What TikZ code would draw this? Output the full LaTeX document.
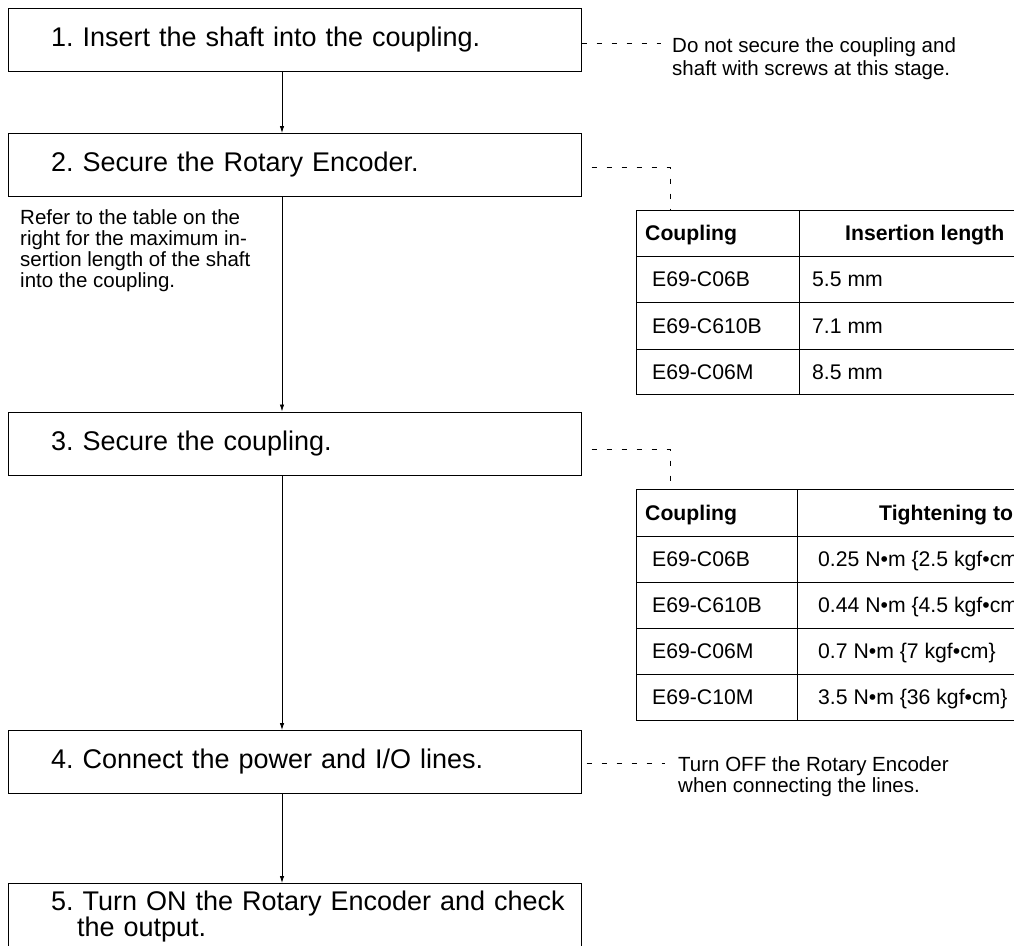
\documentclass[tikz,border=0pt]{standalone}
\usepackage{fontspec}
\setmainfont{Liberation Sans}
\usetikzlibrary{arrows.meta,positioning,calc}
\tikzset{>={Latex[length=7pt,width=4.5pt]}}
\tikzset{
  stepbox/.style={draw, line width=1pt, rectangle, minimum width=573pt, minimum height=63pt,
    text width=487pt, inner xsep=43pt, inner ysep=7pt, align=left, font=\fontsize{27}{25}\selectfont\frenchspacing},
  remark/.style={anchor=north west, inner sep=0pt, align=left, font=\fontsize{20.5}{21.5}\selectfont\frenchspacing},
  cell/.style={anchor=west, inner sep=0pt, text height=15pt, text depth=0pt, font=\fontsize{21.2}{22}\selectfont},
  head/.style={cell, font=\fontsize{21.2}{22}\selectfont\bfseries},
  leader/.style={line width=0.8pt, dash pattern=on 5pt off 10pt},
  grid/.style={line width=1pt}
}

\begin{document}
\frenchspacing
\begin{tikzpicture}[x=1pt,y=-1pt]
  \useasboundingbox (0,0) rectangle (1014,945);
  \clip (0,0) rectangle (1014,945);
  \coordinate (spine) at (282,0);

  % steps
  \node[stepbox] (s1) at (294.5,39.5) {1. Insert the shaft into the coupling.};
  \node[stepbox] (s2) at (294.5,165) {2. Secure the Rotary Encoder.};
  \node[stepbox] (s3) at (294.5,443.5) {3. Secure the coupling.};
  \node[stepbox] (s4) at (294.5,762) {4. Connect the power and I/O lines.};
  \node[stepbox, anchor=north] (s5) at (294.5,883)
    {\mbox{5. Turn ON the Rotary Encoder and check}\\\hspace*{26pt}the output.};

  \draw[->, line width=0.8pt] (s1.south -| spine) -- (s2.north -| spine);
  \draw[->, line width=0.8pt] (s2.south -| spine) -- (s3.north -| spine);
  \draw[->, line width=0.8pt] (s3.south -| spine) -- (s4.north -| spine);
  \draw[->, line width=0.8pt] (s4.south -| spine) -- (s5.north -| spine);

  % remarks
  \node[remark, font=\fontsize{20.5}{23}\selectfont\frenchspacing] (n1) at (672,37)
    {Do not secure the coupling and\\shaft with screws at this stage.};
  \node[remark, font=\fontsize{20.5}{21}\selectfont\frenchspacing] (n2) at (20,209)
    {Refer to the table on the\\right for the maximum in-\\sertion length of the shaft\\into the coupling.};
  \node[remark] (n4) at (678,756) {Turn OFF the Rotary Encoder\\when connecting the lines.};

  \coordinate (e1) at (661,43);
  \coordinate (e4) at (665,763);
  \draw[leader] ([yshift=-3.5pt]s1.east) -- (e1);
  \draw[leader, dash phase=10pt] ([yshift=-1pt]s4.east) -- (e4);

  % insertion length table
  \coordinate (t1) at (670,210);
  \draw[grid] (636,210) rectangle (1040,394);
  \draw[grid] (636,256) -- (1040,256) (636,302) -- (1040,302) (636,349) -- (1040,349);
  \draw[line width=0.8pt] (799,210) -- (799,394);
  \node[head] at (645,233) {Coupling};
  \node[head] at (845,233) {Insertion length};
  \node[cell] at (652,279) {E69-C06B};
  \node[cell] at (812,279) {5.5 mm};
  \node[cell] at (652,325.5) {E69-C610B};
  \node[cell] at (812,325.5) {7.1 mm};
  \node[cell] at (652,371.5) {E69-C06M};
  \node[cell] at (812,371.5) {8.5 mm};
  \draw[leader, dash phase=5pt] ([yshift=-2pt]s2.east) -| (t1);

  % tightening torque table
  \coordinate (t2) at (670,489);
  \draw[grid] (636,489) rectangle (1140,720);
  \draw[grid] (636,536) -- (1140,536) (636,582) -- (1140,582) (636,628) -- (1140,628) (636,674) -- (1140,674);
  \draw[line width=0.8pt] (797,489) -- (797,720);
  \node[head] at (645,512.5) {Coupling};
  \node[head] at (879,512.5) {Tightening torque};
  \node[cell] at (652,559) {E69-C06B};
  \node[cell] at (818,559) {0.25 N•m \{2.5 kgf•cm\}};
  \node[cell] at (652,605) {E69-C610B};
  \node[cell] at (818,605) {0.44 N•m \{4.5 kgf•cm\}};
  \node[cell] at (652,651) {E69-C06M};
  \node[cell] at (818,651) {0.7 N•m \{7 kgf•cm\}};
  \node[cell] at (652,697) {E69-C10M};
  \node[cell] at (818,697) {3.5 N•m \{36 kgf•cm\}};
  \draw[leader, dash phase=5pt] ([yshift=-5.5pt]s3.east) -| (t2);
\end{tikzpicture}
\end{document}
